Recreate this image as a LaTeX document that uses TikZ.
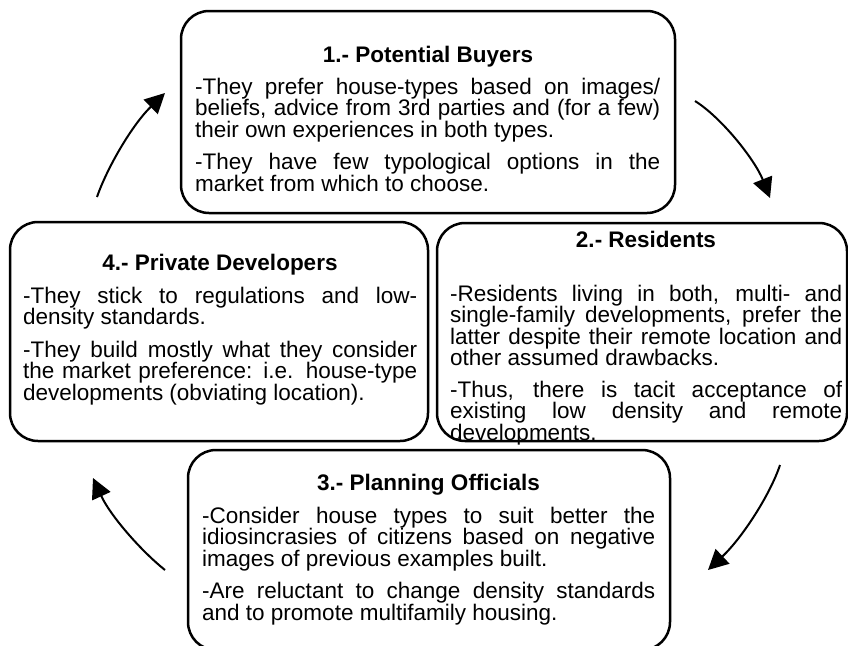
\documentclass[tikz,border=0pt]{standalone}
\usepackage{fontspec}
\setmainfont{Liberation Sans}
\usetikzlibrary{arrows.meta}
\newcommand\cycbodyfont{\fontsize{22.5pt}{21.5pt}\selectfont\tolerance=10000\hbadness=10000\hyphenpenalty=10000\relax}
\newcommand\cycstrut{\rule{0pt}{20pt}}
\begin{document}
\begin{tikzpicture}[x=1pt,y=-1pt,
  panel/.style={draw, line width=2.5pt, rounded corners=28pt, inner sep=0pt},
  heading/.style={font=\fontsize{22.5pt}{21.5pt}\selectfont\bfseries, inner sep=0pt, anchor=base},
  bodytext/.style={font=\cycbodyfont, align=justify, inner sep=0pt, anchor=north west},
  cyc/.style={line width=2pt, -{Triangle[length=20pt,width=20pt]}}]
\useasboundingbox (0,0) rectangle (848,645);
\clip (0,0) rectangle (848,645);

% panels
\node[panel, minimum width=494pt, minimum height=202pt] (buyers) at (428,112) {};
\node[panel, minimum width=410pt, minimum height=218pt] (residents) at (642,332) {};
\node[panel, minimum width=418pt, minimum height=219pt] (developers) at (219,331.5) {};
\node[panel, minimum width=482pt, minimum height=200pt] (officials) at (429,550) {};

% box 1
\node[heading] (buyersT) at (428,62) {1.- Potential Buyers};
\node[bodytext, text width=465pt] (buyersB) at (195,74) {\cycstrut-They prefer house-types based on images/\linebreak beliefs, advice from 3rd parties and (for a few)\linebreak their own experiences in both types.\par\vspace{11pt}-They have few typological options in the\linebreak market from which to choose.};

% box 2
\node[heading] (residentsT) at (646,247) {2.- Residents};
\node[bodytext, text width=392pt] (residentsB) at (450,281) {\cycstrut-Residents living in both, multi- and\linebreak single-family developments, prefer the\linebreak latter despite their remote location and\linebreak other assumed drawbacks.\par\vspace{10pt}-Thus, there is tacit acceptance of\linebreak existing low density and remote\linebreak developments.};

% box 4
\node[heading] (developersT) at (220,270) {4.- Private Developers};
\node[bodytext, text width=394pt] (developersB) at (23,283) {\cycstrut-They stick to regulations and low-\linebreak density standards.\par\vspace{11pt}-They build mostly what they consider\linebreak the market preference: i.e. house-type\linebreak developments (obviating location).};

% box 3
\node[heading] (officialsT) at (428.5,490) {3.- Planning Officials};
\node[bodytext, text width=453pt] (officialsB) at (202,503) {\cycstrut-Consider house types to suit better the\linebreak idiosincrasies of citizens based on negative\linebreak images of previous examples built.\par\vspace{11pt}-Are reluctant to change density standards\linebreak and to promote multifamily housing.};

% cycle arrows
\coordinate (a1s) at (695,101);
\coordinate (a1e) at (770,198);
\coordinate (a2s) at (780,465);
\coordinate (a2e) at (708,570);
\coordinate (a3s) at (165,570);
\coordinate (a3e) at (93,478);
\coordinate (a4s) at (97,197);
\coordinate (a4e) at (165,93);
\draw[cyc] (a1s) .. controls (722,118) and (755,160) .. (a1e);
\draw[cyc] (a2s) .. controls (770,495) and (742,538) .. (a2e);
\draw[cyc] (a3s) .. controls (140,550) and (110,515) .. (a3e);
\draw[cyc] (a4s) .. controls (107,168) and (132,125) .. (a4e);
\end{tikzpicture}
\end{document}
